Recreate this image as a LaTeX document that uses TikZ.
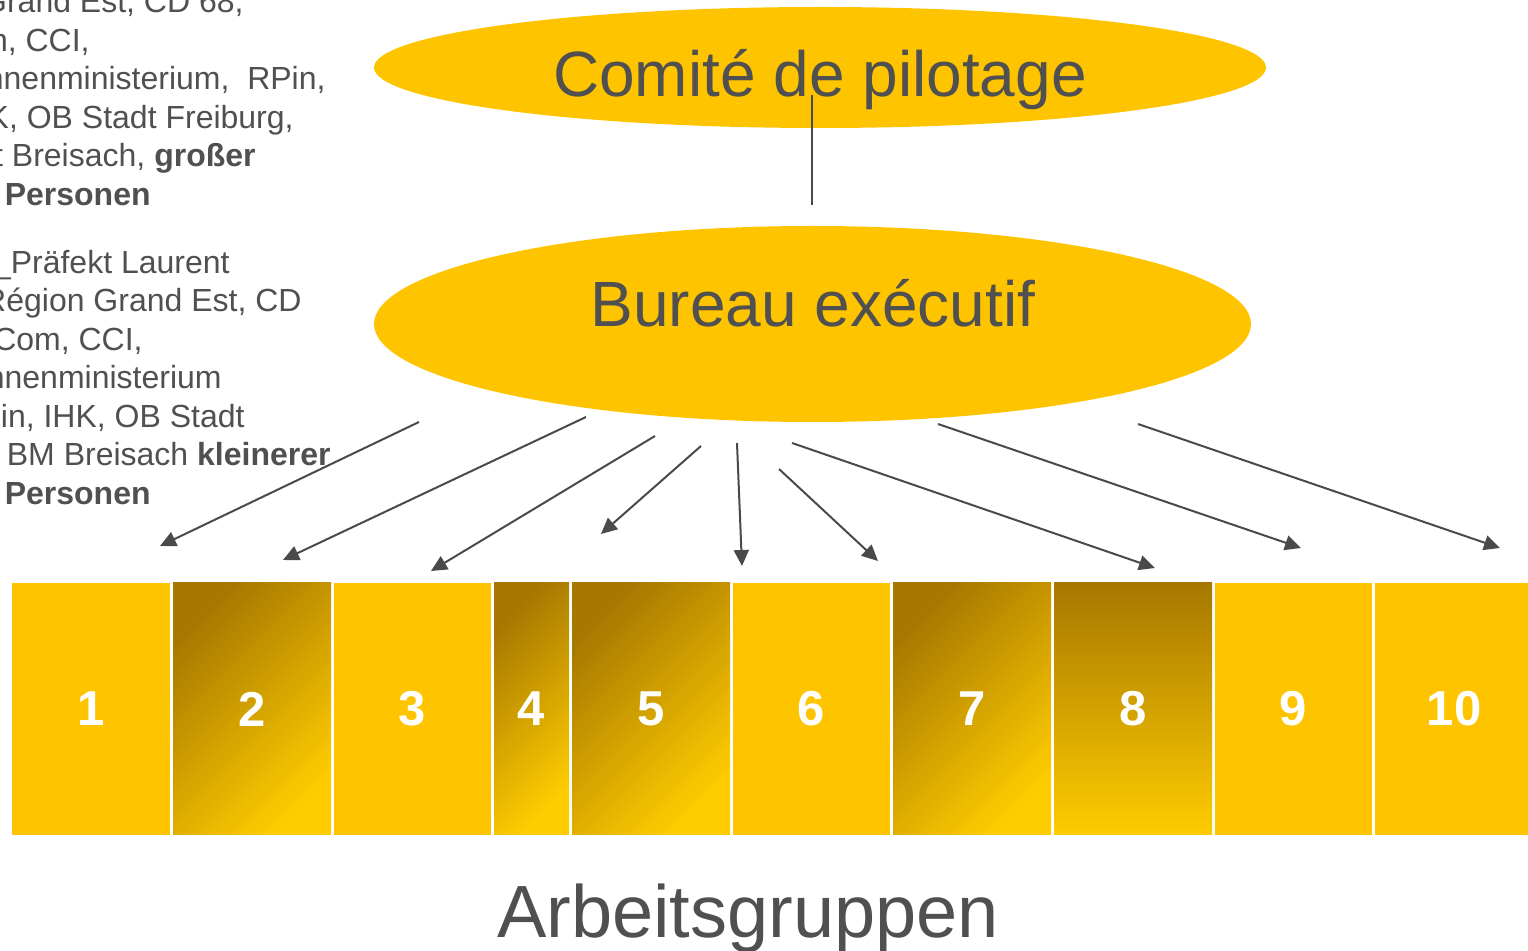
\documentclass[tikz,border=0pt]{standalone}
\usepackage{fontspec}
\setmainfont{Liberation Sans}
\usetikzlibrary{shapes.geometric,arrows.meta}

\definecolor{amber}{HTML}{FFC400}
\definecolor{darkamber}{HTML}{A67800}
\definecolor{lightamber}{HTML}{FFCC00}
\definecolor{txtgray}{HTML}{505050}
\definecolor{arrowgray}{HTML}{4A4A4A}

\tikzset{
  blob/.style={ellipse, fill=amber, inner sep=0pt},
  title/.style={text=txtgray, font=\fontsize{32}{38}\selectfont, anchor=base, inner sep=0pt},
  member/.style={text=txtgray, font=\fontsize{16}{19}\selectfont, anchor=base east, inner sep=0pt},
  group/.style={rectangle, inner sep=0pt, minimum height=126pt, text=white, font=\bfseries\fontsize{24.5}{28}\selectfont},
  flatbox/.style={fill=amber},
  diagbox/.style={top color=darkamber, bottom color=lightamber, shading angle=45},
  vertbox/.style={top color=darkamber, bottom color=lightamber},
  feed/.style={draw=arrowgray, line width=1pt, -{Triangle[length=8pt,width=7.5pt]}},
  link/.style={draw=arrowgray, line width=0.6pt},
}

\begin{document}
\begin{tikzpicture}[x=0.5pt,y=-0.5pt]
	\useasboundingbox (0,0) rectangle (1528,951);
	\clip (0,0) rectangle (1528,951); % page edge cuts the lists and box 10

	% member lists, set flush right on their visible ends
	\foreach \yy/\xx/\txt [count=\k] in {
		13/244/{Grand Est, CD 68,}, 51.5/90/{n, CCI,}, 90/326/{nnenministerium,~~RPin,},
		128.5/294/{K, OB Stadt Freiburg,}, 167/256/{t Breisach, \textbf{großer}}, 205.5/151/{\textbf{Personen}},
		273.5/230/{\_Präfekt Laurent}, 312/302/{Région Grand Est, CD}, 350.5/143/{Com, CCI,},
		389/222/{nnenministerium}, 427.5/245/{in, IHK, OB Stadt}, 466/331/{BM Breisach \textbf{kleinerer}},
		504.5/151/{\textbf{Personen}}
	}{\node[member] (line\k) at (\xx,\yy) {\txt};}

	\node[blob, minimum width=446pt, minimum height=60.5pt] (comite) at (820,67.5) {};
	\node[title] (comitetext) at (820,97) {Comité de pilotage};
	\node[blob, minimum width=438.5pt, minimum height=98pt] (bureau) at (812.5,324) {};
	\node[title] (bureautext) at (813,327) {Bureau exécutif};

	\coordinate (linktop) at (812,95);
	\coordinate (linkbot) at (812,205);
	\draw[link] (linktop) -- (linkbot);

	% working groups
	\foreach \i/\l/\w/\look in {1/12/158/flatbox, 2/173/158/diagbox, 3/334/157/flatbox, 4/494/75/diagbox,
		5/572/158/diagbox, 6/733/157/flatbox, 7/893/158/diagbox, 8/1054/158/vertbox, 9/1215/157/flatbox, 10/1375/158/flatbox}
		\node[group, \look, minimum width=\w*0.5pt] (g\i) at ({\l+\w/2},709) {\i};

	\foreach \k/\sx/\sy/\ex/\ey in {1/419/422/160/546, 2/586/417/283/560, 3/655/436/431/571, 4/701/446/601/534,
		5/737/443/742/566, 6/779/469/878/561, 7/792/443/1155/568, 8/938/424/1301/548, 9/1138/424/1500/548}{
		\coordinate (from\k) at (\sx,\sy);
		\coordinate (to\k) at (\ex,\ey);
		\draw[feed] (from\k) -- (to\k);
	}

	\node[text=txtgray, font=\fontsize{37}{44}\selectfont, anchor=base, inner sep=0pt] (groupslabel) at (748,938) {Arbeitsgruppen};
\end{tikzpicture}
\end{document}
